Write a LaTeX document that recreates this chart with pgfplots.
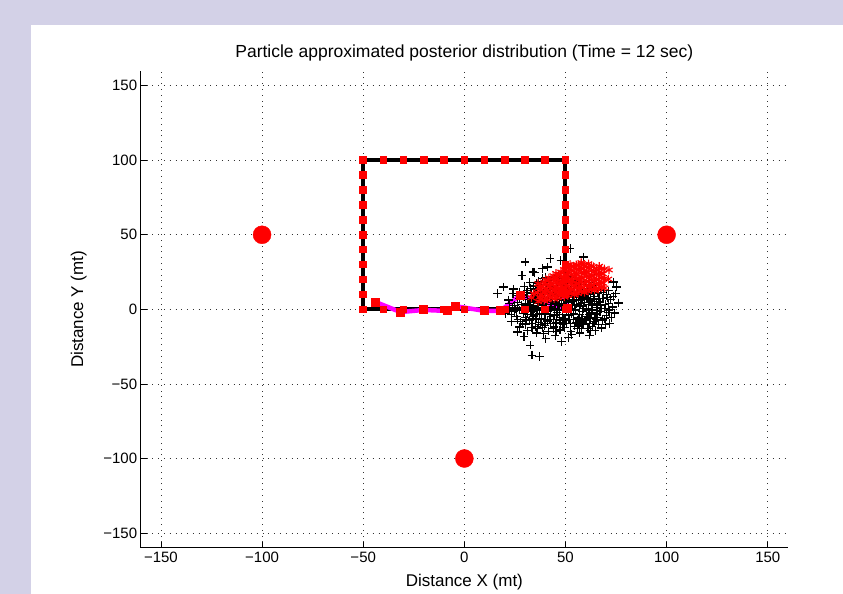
\documentclass[border=0pt]{standalone}
\usepackage{fontspec}
\setmainfont{Liberation Sans}
\usepackage{pgfplots}
\pgfplotsset{compat=1.18}
\definecolor{slidebg}{RGB}{211,209,231}
\definecolor{mag}{RGB}{255,0,255}

\begin{document}
\begin{tikzpicture}
\useasboundingbox (0,0) rectangle (843pt,594pt);
\fill[slidebg] (0,0) rectangle (843pt,594pt);
\fill[white] (31pt,0) rectangle (843pt,569pt);
\begin{axis}[
    at={(140.7pt,46pt)}, anchor=south west,
    scale only axis,
    width=647.3pt, height=477.3pt,
    xmin=-160, xmax=160, ymin=-160, ymax=160,
    axis x line*=bottom, axis y line*=left,
    axis line style={-, line width=1pt},
    xtick={-150,-100,-50,0,50,100,150},
    ytick={-150,-100,-50,0,50,100,150},
    xticklabels={−150,−100,−50,0,50,100,150},
    yticklabels={−150,−100,−50,0,50,100,150},
    tick align=inside,
    major tick length=6pt,
    tick style={black, line width=0.8pt},
    xmajorgrids, ymajorgrids,
    grid style={black!80, line width=0.8pt, dash pattern=on 0.8pt off 5pt},
    ticklabel style={font=\fontsize{15}{18}\selectfont},
    /pgf/number format/assume math mode=true,
    title={Particle approximated posterior distribution (Time = 12 sec)},
    title style={at={(0.5,1)}, anchor=base, yshift=7pt, font=\fontsize{17.5}{20}\selectfont},
    xlabel={Distance X (mt)},
    ylabel={Distance Y (mt)},
    xlabel style={at={(axis description cs:0.5,0)}, anchor=center, yshift=-34pt, font=\fontsize{17}{20}\selectfont},
    ylabel style={at={(axis description cs:-0.0958,0.5)}, anchor=center, font=\fontsize{17}{20}\selectfont},
    clip=false,
]

% particles (black +)
\addplot[only marks, mark=+, mark size=4.2pt, black, line width=1.2pt] coordinates {
(36.2,-13.1) (41.5,-14.6) (47.3,-13.8) (52.6,-14.9) (58.1,-12.7)
(30.4,-10.2) (35.1,-11.7) (39.6,-10.8) (44.2,-11.9) (48.8,-10.4) (54.3,-11.3) (58.7,-10.1) (63.2,-11.6)
(27.7,-8.4) (32.3,-7.5) (36.8,-8.9) (41.2,-7.8) (45.4,-8.6) (50.1,-7.3) (55.2,-8.8) (59.6,-7.6) (64.1,-8.3) (68.4,-7.2)
(25.8,-4.6) (30.2,-5.7) (34.3,-4.4) (38.1,-5.9) (42.7,-4.8) (47.2,-5.5) (51.6,-4.2) (56.3,-5.8) (60.7,-4.7) (65.8,-5.3) (70.1,-4.1)
(24.6,-1.4) (29.1,-2.6) (33.4,-1.7) (37.2,-2.8) (41.3,-1.2) (45.8,-2.3) (50.4,-1.6) (54.1,-2.7) (58.3,-1.3) (62.8,-2.4) (67.1,-1.5) (71.7,-2.2)
(23.8,1.3) (28.2,0.4) (31.7,1.8) (36.1,0.6) (40.3,1.5) (44.4,0.3) (48.2,1.7) (52.3,0.8) (56.8,1.9) (61.2,0.5) (65.4,1.4) (69.3,0.7) (73.2,1.6)
(26.1,4.4) (30.3,3.6) (34.2,4.8) (38.4,3.3) (42.8,4.6) (47.1,3.8) (51.3,4.9) (55.4,3.4) (59.2,4.5) (63.3,3.7) (67.2,4.8) (71.4,3.9)
(27.3,7.4) (31.2,6.6) (35.4,7.8) (39.3,6.4) (43.6,7.5) (48.2,6.8) (52.1,7.7) (56.4,6.5) (60.3,7.6) (64.2,6.9) (68.5,7.3) (72.3,6.7)
(29.4,9.6) (33.2,10.7) (37.3,9.4) (41.1,10.5) (45.4,9.8) (49.2,10.9) (53.4,9.5) (57.2,10.6) (62.3,9.7) (66.1,10.8) (70.4,9.9)
(31.3,12.6) (35.4,13.7) (40.2,12.4) (44.3,13.5) (48.4,12.8) (53.1,13.9) (58.2,12.5) (63.4,13.6) (67.2,12.9)
(34.3,15.7) (38.2,16.6) (43.4,15.4) (48.3,16.8) (54.2,15.5) (59.3,16.7) (64.1,15.8)
(36.8,18.7) (42.3,19.5) (47.2,18.4) (52.4,19.6) (57.3,18.8)
(40.2,21.6) (46.3,22.4) (51.2,21.8)
(33.6,-6.3) (39.7,-6.8) (44.1,-6.6) (49.3,-6.2) (53.8,-6.9) (58.2,-6.4) (62.4,-6.1)
(31.4,-3.3) (35.8,-3.6) (40.2,-3.1) (44.6,-3.8) (48.7,-3.4) (52.9,-3.2) (57.1,-3.7) (61.6,-3.5) (65.3,-3.1)
(30.1,2.7) (34.1,2.3) (38.2,2.9) (42.4,2.1) (46.3,2.6) (50.2,2.4) (54.6,2.8) (58.8,2.2) (63.1,2.5) (67.4,2.6)
(32.8,5.6) (36.7,5.2) (40.9,5.8) (45.2,5.4) (49.6,5.9) (53.7,5.1) (57.8,5.7) (62.1,5.3) (66.3,5.5)
(35.2,8.6) (39.4,8.2) (43.3,8.8) (47.4,8.4) (51.5,8.7) (55.6,8.3) (59.7,8.9) (64.1,8.5)
(37.4,11.6) (42.6,11.3) (46.7,11.8) (51.2,11.2) (55.3,11.7) (60.4,11.4)
(45.2,-9.3) (50.3,-9.6) (40.1,-9.4) (56.7,-9.8)
(32.6,-0.6) (27.2,-0.3) (60.4,-0.4) (65.6,-0.7)
(33.4,-12.4) (38.7,-12.2) (43.9,-12.8) (49.6,-12.1) (55.8,-12.6) (61.1,-12.9)
(28.9,-9.8) (33.1,-9.3) (37.6,-9.9) (42.7,-9.5) (47.6,-9.1) (52.5,-9.7) (57.3,-9.2) (61.8,-9.6) (66.2,-9.9)
(26.4,-6.8) (30.8,-7.1) (35.4,-6.5) (42.1,-6.9) (46.9,-7.2) (51.7,-6.6) (56.1,-7.0) (60.4,-6.7) (65.1,-6.9) (69.3,-6.4)
(25.3,0.2) (30.4,-0.1) (34.6,0.3) (38.7,-0.2) (42.6,0.1) (46.9,-0.3) (50.6,0.2) (54.8,-0.4) (58.9,0.3) (63.5,-0.1) (67.8,0.4) (71.9,-0.3)
(24.8,2.8) (28.3,3.1) (32.4,3.4) (36.5,3.9) (40.7,3.2) (44.9,3.6) (49.1,3.1) (53.2,3.5) (57.3,3.9) (61.4,3.2) (65.5,3.6) (69.6,3.3)
(29.2,8.2) (33.5,7.1) (37.8,6.9) (41.7,7.3) (45.8,7.1) (50.1,6.4) (54.2,6.2) (58.4,6.9) (62.5,6.3) (66.6,7.2) (70.8,7.8)
(30.7,11.1) (34.9,10.2) (39.1,10.9) (43.4,10.3) (47.6,10.1) (51.8,10.4) (56.1,10.1) (60.2,10.3) (64.5,10.9) (68.6,11.4)
(32.6,14.2) (37.1,14.8) (41.6,14.1) (46.2,14.6) (50.7,14.3) (55.7,14.9) (60.6,14.2) (65.3,14.5)
(35.8,17.6) (40.4,17.9) (45.6,17.4) (50.9,17.7) (56.1,17.3) (61.7,17.8)
(38.6,20.6) (44.1,21.1) (49.3,20.5) (54.7,21.2)
(23.2,-3.6) (22.1,-0.6) (21.8,6.2) (25.6,9.4) (27.4,11.8) (29.6,15.4) (32.4,18.1)
(71.3,12.4) (73.6,8.6) (74.4,-2.4) (72.6,-5.6) (69.8,-10.3) (64.7,-14.3) (57.1,-15.9) (45.3,-15.1) (39.2,-16.4) (31.1,-14.4) (27.3,-11.9)
(30.1,31.7) (58.9,35.1) (42.4,34.0) (47.7,32.8) (19.4,15.0) (16.4,10.5) (28.5,22.8)
(26.3,-15.2) (32.6,-24.1) (33.4,-30.8) (37.2,-31.5) (44.9,-17.4) (51.5,-19.0) (62.2,-14.1)
(73.7,18.3) (75.3,15.0) (71.2,-0.7) (64.6,-5.2)
(22.3,4.1) (20.5,-2.7) (38.6,27.5) (55.6,27.2) (66.3,23.1) (74.8,10.4) (76.2,4.3)
(71.8,-9.6) (67.7,-12.5) (48.1,-21.6) (40.3,-19.8) (29.5,-18.3) (23.4,-8.2) (24.2,13.6)
(61.8,-17.3) (34.8,24.6) (53.1,-16.8) (35.6,-15.8)
(52.3,40.7) (41.1,28.4) (33.9,25.0) (24.0,10.5)
};

% true trajectory
\addplot[black, line width=4pt, mark=square*, mark size=3.3pt,
    mark options={fill=red, draw=red, line width=0pt}] coordinates {
(50,20) (50,10) (50,0) (40,0) (30,0) (20,0) (10,0) (0,0) (-10,0) (-20,0) (-30,0) (-40,0) (-50,0)
(-50,10) (-50,20) (-50,30) (-50,40) (-50,50) (-50,60) (-50,70) (-50,80) (-50,90) (-50,100)
(-40,100) (-30,100) (-20,100) (-10,100) (0,100) (10,100) (20,100) (30,100) (40,100) (50,100)
(50,90) (50,80) (50,70) (50,60) (50,50) (50,40) (50,30) (50,20)
};

% estimated trajectory
\addplot[mag, line width=4.5pt, mark=square*, mark size=4pt,
    mark options={fill=red, draw=red, line width=0pt}] coordinates {
(-43.9,4.9) (-31.6,-1.8) (-20.0,-0.4) (-8.2,-1.1) (-4.3,2.1) (9.9,-1.0) (17.8,-1.1) (27.6,9.4) (51.1,0.4) (48.5,12.0)
};

% particles (red *)
\addplot[only marks, mark=asterisk, mark size=4.2pt, red, line width=1.1pt] coordinates {
(36.5,5.2) (37.1,8.1) (36.2,11.3) (36.9,14.6) (36.4,17.2)
(39.4,5.8) (38.7,8.7) (39.5,11.9) (38.8,15.1) (39.3,18.4)
(41.2,6.3) (41.9,9.4) (41.3,12.6) (42.0,15.8) (41.4,19.3) (41.8,21.1)
(44.4,7.1) (43.7,10.2) (44.5,13.4) (43.8,16.5) (44.3,19.8) (43.9,22.6)
(46.2,7.7) (46.9,10.8) (46.3,13.9) (46.8,17.2) (46.1,20.4) (46.7,23.6)
(49.4,8.4) (48.7,11.6) (49.3,14.7) (48.6,17.9) (49.5,21.2) (48.8,24.5) (49.2,26.8)
(51.2,9.2) (51.9,12.3) (51.3,15.4) (51.8,18.6) (51.1,21.8) (51.7,25.1) (51.4,28.2)
(54.4,9.8) (53.7,13.1) (54.3,16.2) (53.6,19.3) (54.5,22.5) (53.8,25.7) (54.2,28.9)
(56.2,10.6) (56.9,13.7) (56.3,16.9) (56.8,20.1) (56.1,23.3) (56.7,26.4) (56.4,29.5)
(59.4,11.3) (58.7,14.5) (59.3,17.6) (58.6,20.8) (59.5,24.1) (58.8,27.2) (59.2,30.1)
(61.2,12.1) (61.9,15.2) (61.3,18.4) (61.8,21.5) (61.1,24.7) (61.7,27.9) (61.4,30.6)
(64.4,12.8) (63.7,16.1) (64.3,19.2) (63.6,22.3) (64.5,25.4) (63.8,28.6)
(66.2,13.6) (66.9,16.8) (66.3,19.9) (66.8,23.1) (66.1,26.2) (66.7,28.9)
(69.4,14.3) (68.7,17.5) (69.3,20.6) (68.6,23.8) (69.2,27.1)
(37.8,6.6) (37.8,9.7) (37.8,12.9) (37.8,15.8)
(40.3,7.2) (40.3,10.3) (40.3,13.5) (40.3,16.7) (40.3,19.6)
(42.8,7.8) (42.8,11.0) (42.8,14.1) (42.8,17.3) (42.8,20.5)
(45.3,8.4) (45.3,11.6) (45.3,14.8) (45.3,18.0) (45.3,21.2) (45.3,24.1)
(47.8,9.1) (47.8,12.3) (47.8,15.4) (47.8,18.6) (47.8,21.8) (47.8,25.0)
(50.3,9.8) (50.3,13.0) (50.3,16.1) (50.3,19.3) (50.3,22.5) (50.3,25.7) (50.3,27.6)
(52.8,10.5) (52.8,13.7) (52.8,16.9) (52.8,20.0) (52.8,23.2) (52.8,26.4) (52.8,29.0)
(55.3,11.2) (55.3,14.4) (55.3,17.6) (55.3,20.7) (55.3,23.9) (55.3,27.1) (55.3,29.8)
(57.8,11.9) (57.8,15.1) (57.8,18.3) (57.8,21.4) (57.8,24.6) (57.8,27.8) (57.8,30.3)
(60.3,12.6) (60.3,15.8) (60.3,19.0) (60.3,22.1) (60.3,25.3) (60.3,28.5)
(62.8,13.3) (62.8,16.5) (62.8,19.7) (62.8,22.8) (62.8,26.0) (62.8,29.2)
(65.3,14.0) (65.3,17.2) (65.3,20.4) (65.3,23.5) (65.3,26.7)
(67.8,14.7) (67.8,17.9) (67.8,21.1) (67.8,24.2) (67.8,27.4)
(34.2,10.5) (33.1,7.8) (71.5,26.4) (71.2,20.3) (57.8,31.4) (52.3,30.2)
};

% landmarks
\addplot[only marks, mark=*, mark size=9pt, red] coordinates {
(-100,50) (100,50) (0,-100)
};

\end{axis}
\end{tikzpicture}
\end{document}
